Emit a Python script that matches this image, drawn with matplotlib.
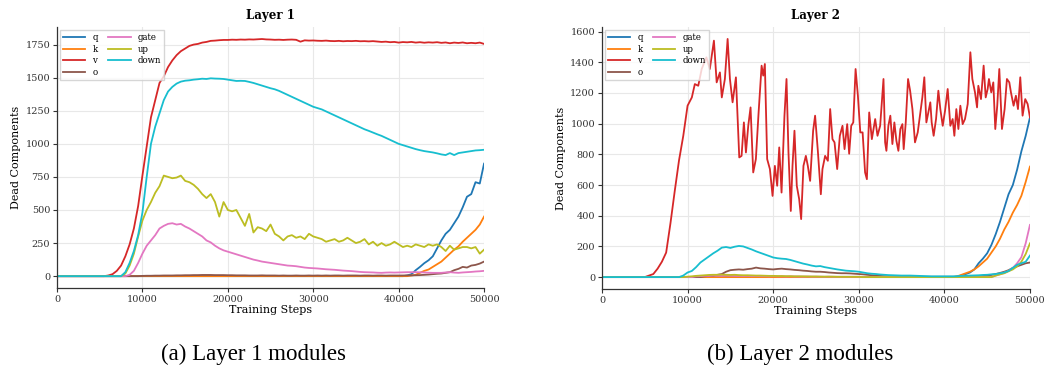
import numpy as np
import matplotlib
matplotlib.use("Agg")
import matplotlib.pyplot as plt

plt.rcParams["font.family"] = ["DejaVu Serif"]

# sample grid used for most series (every 500 steps)
steps = np.arange(0, 50001, 500)

# ---------------- Layer 1 ----------------
q1 = [0] * 82 + [5, 15, 45, 70, 98, 120, 150, 210, 270, 320, 350, 400, 450, 520,
                 600, 620, 710, 700, 850]
k1 = [0] * 83 + [5, 10, 25, 40, 50, 70, 90, 110, 140, 170, 200, 225, 260, 290,
                 320, 350, 390, 450]
v1 = [0] * 12 + [5, 15, 40, 80, 150, 240, 360, 530, 760, 980, 1200, 1330, 1460,
                 1510, 1580, 1630, 1670, 1700, 1720, 1740, 1750, 1755, 1765, 1770,
                 1778, 1780, 1783, 1785, 1785,
                 1787, 1786, 1788, 1787, 1789, 1788, 1790, 1792, 1789, 1788,
                 1786, 1787, 1785, 1787, 1788, 1786, 1772, 1782, 1780, 1781,
                 1779, 1778, 1780, 1777, 1776, 1778, 1775, 1777, 1776, 1778,
                 1775, 1776, 1774, 1776, 1773, 1770, 1772, 1768, 1770, 1765,
                 1769, 1767, 1770, 1765, 1768, 1764, 1767, 1765, 1768, 1763,
                 1766, 1760, 1765, 1762, 1766, 1760, 1763, 1760, 1765, 1755]
o1 = [0] * 20 + [2, 3, 3, 4, 4, 5, 5, 5, 6, 6, 7, 7, 8, 8, 9, 9, 9, 8, 8, 8, 7,
                 7, 6, 6, 6, 5, 5, 5, 6, 5, 5, 5, 4, 5, 4, 4, 5, 4, 4, 5, 4,
                 5, 4, 5, 4, 5, 5, 4, 5, 5, 5,
                 4, 5, 5, 4, 5, 5, 4, 5, 5, 5,
                 5, 6, 6, 7, 8, 10, 12, 15, 18, 20, 25, 30, 45, 55, 70, 65,
                 80, 85, 95, 110]
gate1 = [0] * 17 + [10, 40, 100, 170, 230, 270, 310, 360, 380, 395, 400, 390, 395,
                    375, 360, 340, 320, 300, 270, 255, 230, 210, 195, 185, 175,
                    165, 155, 145, 135, 125, 118, 110, 105, 100, 95, 90, 85, 80,
                    78, 75, 70, 65, 62, 60, 58, 55, 52, 50, 48, 45, 42, 40, 38,
                    35, 32, 30, 29, 28, 26, 25, 27, 28, 27, 28, 29, 30, 30, 30,
                    29, 28, 26, 25, 25, 25, 28, 30, 27, 25, 28, 30, 32, 35, 37, 40]
up1 = [0] * 16 + [20, 80, 170, 300, 420, 500, 560, 630, 680, 760, 750, 740, 745,
                  760, 720, 710, 690, 660, 620, 590, 620, 560, 450, 560, 500, 490,
                  500, 440, 380, 470, 330, 370, 360, 340, 390, 320, 300, 270, 300,
                  310, 290, 300, 280, 320, 300, 290, 280, 260, 270, 280, 260, 270,
                  290, 270, 250, 260, 280, 240, 260, 230, 250, 230, 240, 260, 240,
                  220, 230, 220, 240, 230, 220, 240, 230, 240, 220, 190, 230, 200,
                  210, 220, 220, 210, 220, 170, 200]
down1 = [0] * 16 + [30, 100, 190, 310, 480, 750, 1000, 1130, 1230, 1330, 1395, 1430,
                    1455, 1470, 1477, 1480, 1485, 1488, 1492, 1490, 1495, 1493,
                    1492, 1490, 1485, 1480, 1475, 1476, 1475, 1468, 1460, 1450,
                    1440, 1430, 1420, 1412, 1400, 1385, 1370, 1355, 1340, 1325,
                    1310, 1295, 1280, 1270, 1260, 1245, 1230, 1215, 1200, 1185,
                    1170, 1155, 1140, 1125, 1110, 1098, 1085, 1072, 1060, 1045,
                    1030, 1015, 1000, 990, 980, 970, 960, 952, 945, 940, 935, 928,
                    920, 915, 930, 915, 930, 935, 940, 945, 950, 952, 955]

# ---------------- Layer 2 ----------------
q2 = [0] * 83 + [3, 10, 20, 30, 50, 90, 120, 155, 210, 280, 360, 450, 540, 600,
                 700, 820, 920, 1040]
k2 = [0] * 83 + [5, 15, 25, 35, 50, 70, 95, 120, 160, 200, 250, 310, 360, 420,
                 470, 530, 620, 720]
o2 = [0] * 24 + [5, 8, 10, 15, 20, 35, 45, 48, 50, 48, 52, 55, 62, 57, 55, 52, 50,
                 53, 55, 52, 50, 47, 45, 42, 40, 37, 35, 35, 33, 30, 28, 26, 25,
                 25, 24, 22, 20, 18, 15, 12, 10, 8, 6, 5, 5, 4, 4, 3, 3, 3, 2, 2,
                 2, 2, 2, 2, 2, 2, 2, 2, 2, 3, 3, 3, 5, 7, 10, 14, 20, 27, 35, 45,
                 60, 70, 80, 90, 95]
gate2 = [0] * 22 + [5, 6, 8, 8, 10, 9, 8, 10, 9, 8, 8, 7, 8, 6, 7, 6, 6, 5, 6, 5,
                    5, 4, 5, 4, 4, 3, 4, 3, 3, 3, 2, 3, 2, 2, 2, 2, 2, 2, 2] \
        + [0] * 31 + [10, 18, 28, 40, 60, 90, 130, 220, 340]
up2 = [0] * 20 + [3, 5, 8, 10, 12, 14, 15, 15, 16, 15, 14, 15, 13, 12, 12, 11, 10,
                  10, 9, 8, 8, 7, 7, 6, 6, 5, 5, 5, 4, 4, 4, 3, 3, 3, 3, 2, 2, 2,
                  2, 2, 2] \
      + [0] * 31 + [10, 18, 25, 38, 50, 70, 100, 150, 220]
down2 = [0] * 19 + [10, 30, 40, 65, 95, 115, 135, 155, 172, 192, 196, 190, 198, 203,
                    200, 190, 180, 168, 158, 148, 138, 128, 123, 120, 118, 112,
                    104, 96, 88, 82, 75, 70, 72, 65, 60, 55, 50, 46, 42, 40, 38,
                    35, 30, 25, 22, 20, 17, 15, 13, 12, 11, 10, 10, 10, 9, 8, 7,
                    6, 5, 5, 5, 5, 5, 5, 6, 8, 9, 10, 11, 12, 14, 15, 18, 20, 25,
                    30, 40, 60, 80, 90, 100, 140]

# v in layer 2 is very noisy, so it gets its own step positions
v2_steps = [0, 5000, 5500, 6000, 6500, 7000, 7500, 8000, 8500, 9000, 9500, 10000,
            10500, 10850, 11250, 11650, 12200, 12600, 13080, 13400, 13780, 14000,
            14360, 14680, 14950, 15260, 15650, 16040, 16310, 16580, 16820, 17090,
            17360, 17670, 17980, 18300, 18650, 18840, 19030, 19300, 19620, 19930,
            20200, 20470, 20710, 20980, 21320, 21560, 21790, 22060, 22260, 22490,
            22760, 23040, 23270, 23540, 23820, 24050, 24320, 24670, 24900, 25220,
            25570, 25760, 26070, 26390, 26660, 26930, 27170, 27480, 27790, 28100,
            28340, 28650, 28880, 29120, 29360, 29630, 29900, 30180, 30450, 30740,
            30950, 31220, 31530, 31920, 32190, 32500, 32890, 33080, 33230, 33460,
            33690, 33930, 34160, 34400, 34630, 34860, 35100, 35250, 35490, 35760,
            36000, 36270, 36570, 36890, 37200, 37430, 37660, 37900, 38130, 38360,
            38520, 38750, 39030, 39300, 39530, 39810, 40080, 40390, 40700, 40970,
            41170, 41400, 41640, 41870, 42140, 42410, 42730, 43040, 43270, 43580,
            43820, 43970, 44280, 44590, 44830, 45060, 45210, 45480, 45720, 45950,
            46180, 46420, 46730, 47040, 47310, 47590, 47780, 48090, 48360, 48600,
            48870, 49140, 49450, 49730, 50000]
v2_vals = [0, 0, 10, 20, 55, 100, 160, 350, 560, 760, 921, 1117,
           1171, 1258, 1247, 1356, 1432, 1356, 1541, 1269, 1334, 1171,
           1291, 1552, 1291, 1139, 1302, 780, 790, 1008, 812, 986,
           1106, 682, 769, 1073, 1378, 1313, 1389, 769, 704, 529,
           725, 595, 845, 551, 1052, 1291, 812, 431, 725, 954,
           595, 508, 378, 725, 790, 725, 627, 954, 1052, 823,
           540, 704, 790, 758, 1095, 899, 878, 704, 921, 986,
           834, 997, 804, 986, 1008, 1356, 1182, 943, 943, 682,
           638, 1073, 899, 1030, 921, 986, 1291, 878, 823, 986,
           1052, 867, 1008, 888, 823, 965, 997, 834, 1008, 1291,
           1215, 1095, 878, 943, 1073, 1171, 1302, 1008, 1073, 1139,
           1008, 921, 1030, 1215, 1095, 986, 1084, 1226, 986, 1030,
           921, 1095, 965, 1117, 997, 1030, 1128, 1465, 1291, 1204,
           1106, 1247, 1160, 1378, 1171, 1226, 1291, 1204, 1269, 965,
           1117, 1356, 965, 1095, 1291, 1269, 1204, 1117, 1182, 1095,
           1302, 1052, 1160, 1128, 1041]

colors = {"q": "#1f77b4", "k": "#ff7f0e", "v": "#d62728", "o": "#8c564b",
          "gate": "#e377c2", "up": "#bcbd22", "down": "#17becf"}


def style_axes(ax, title):
    ax.set_title(title, fontsize=8.5, fontweight="bold", pad=6)
    ax.set_xlabel("Training Steps", fontsize=8, labelpad=1)
    ax.set_ylabel("Dead Components", fontsize=8, labelpad=3)
    ax.set_xlim(0, 50000)
    ax.set_xticks([0, 10000, 20000, 30000, 40000, 50000])
    ax.grid(True, color="#e8e8e8", linewidth=0.8)
    ax.set_axisbelow(True)
    for side in ("top", "right"):
        ax.spines[side].set_visible(False)
    for side in ("left", "bottom"):
        ax.spines[side].set_color("#333333")
        ax.spines[side].set_linewidth(0.9)
    ax.tick_params(labelsize=7, length=3, width=0.8, color="#333333",
                   labelcolor="#333333", pad=2)
    ax.legend(loc="upper left", ncol=2, fontsize=6.2, frameon=True,
              edgecolor="#cccccc", fancybox=False, handlelength=2.6,
              columnspacing=1.2, borderaxespad=0.3, labelspacing=0.3,
              handletextpad=0.8)


fig = plt.figure(figsize=(10.5, 3.7), dpi=100)
ax1 = fig.add_axes([0.0543, 0.2216, 0.4067, 0.705])
ax2 = fig.add_axes([0.5733, 0.2189, 0.4076, 0.708])

lw = 1.3
ax1.plot(steps, q1, color=colors["q"], lw=lw, label="q")
ax1.plot(steps, k1, color=colors["k"], lw=lw, label="k")
ax1.plot(steps, v1, color=colors["v"], lw=lw, label="v")
ax1.plot(steps, o1, color=colors["o"], lw=lw, label="o")
ax1.plot(steps, gate1, color=colors["gate"], lw=lw, label="gate")
ax1.plot(steps, up1, color=colors["up"], lw=lw, label="up")
ax1.plot(steps, down1, color=colors["down"], lw=lw, label="down")
ax1.set_yticks([0, 250, 500, 750, 1000, 1250, 1500, 1750])
style_axes(ax1, "Layer 1")

ax2.plot(steps, q2, color=colors["q"], lw=lw, label="q")
ax2.plot(steps, k2, color=colors["k"], lw=lw, label="k")
ax2.plot(v2_steps, v2_vals, color=colors["v"], lw=lw, label="v")
ax2.plot(steps, o2, color=colors["o"], lw=lw, label="o")
ax2.plot(steps, gate2, color=colors["gate"], lw=lw, label="gate")
ax2.plot(steps, up2, color=colors["up"], lw=lw, label="up")
ax2.plot(steps, down2, color=colors["down"], lw=lw, label="down")
ax2.set_yticks([0, 200, 400, 600, 800, 1000, 1200, 1400, 1600])
style_axes(ax2, "Layer 2")

fig.text(0.241, 0.026, "(a) Layer 1 modules", ha="center", va="baseline",
         fontsize=16.5, family=["Liberation Serif"])
fig.text(0.762, 0.026, "(b) Layer 2 modules", ha="center", va="baseline",
         fontsize=16.5, family=["Liberation Serif"])

fig.savefig("out.png", dpi=100)
plt.close(fig)
